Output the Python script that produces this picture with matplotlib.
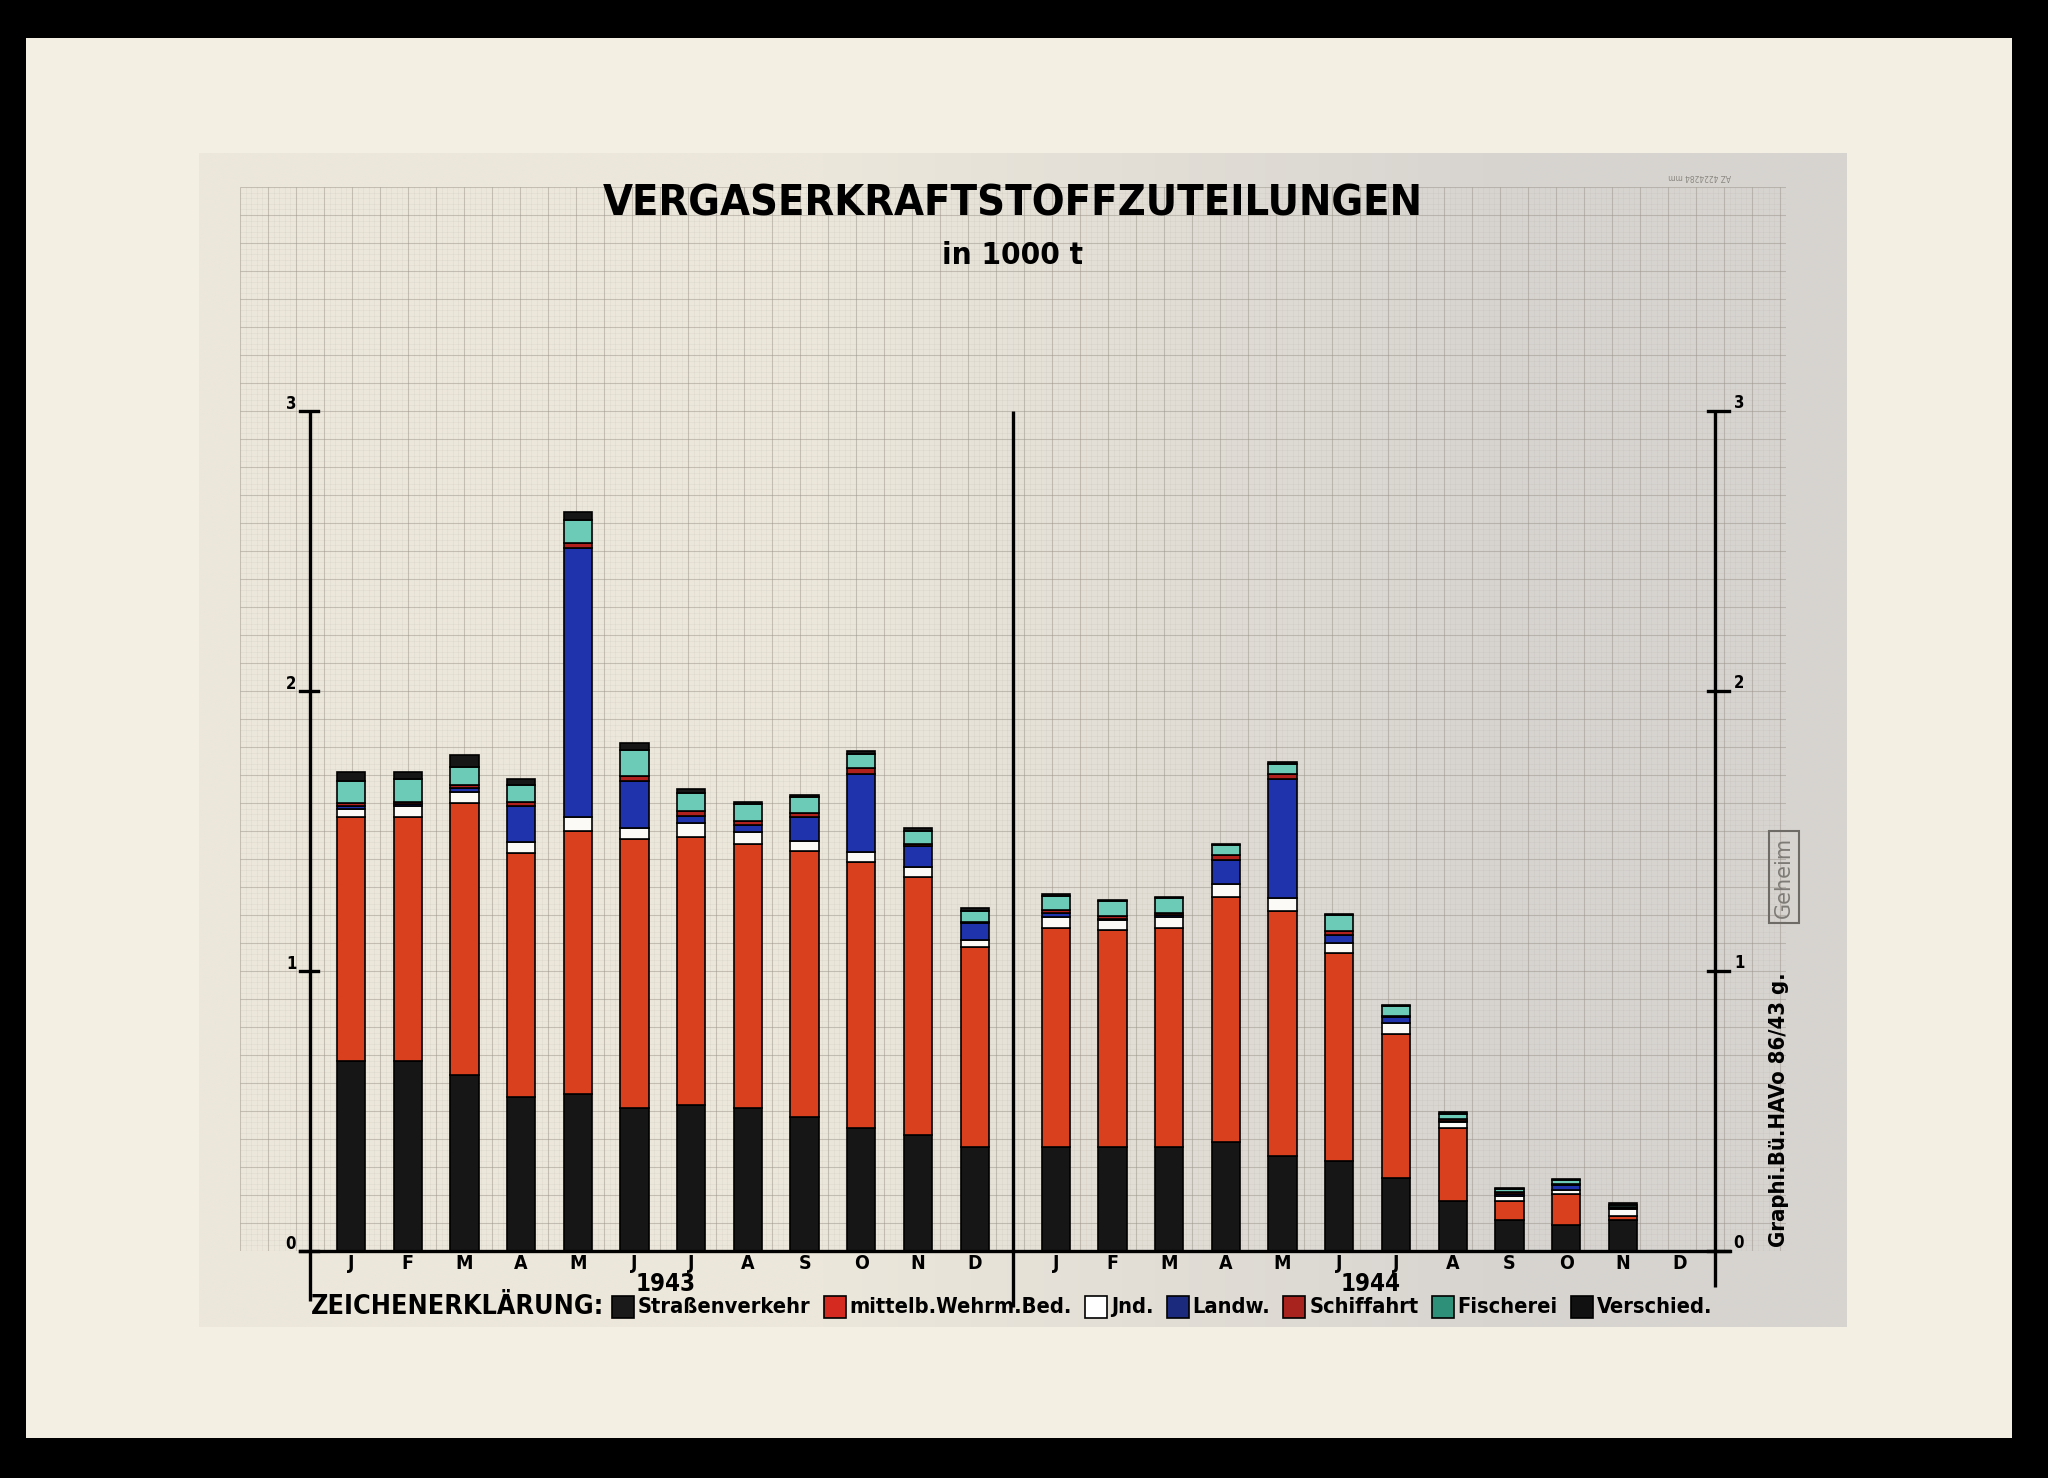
import numpy as np
import matplotlib
matplotlib.use('Agg')
import matplotlib.pyplot as plt
from matplotlib import font_manager as fm
from matplotlib.patches import Rectangle

# ---------------- data (in 1000 t) ----------------
months = ['J', 'F', 'M', 'A', 'M', 'J', 'J', 'A', 'S', 'O', 'N', 'D']
years = ['1943', '1944']
series_names = ['Straßenverkehr', 'mittelb.Wehrm.Bed.', 'Jnd.', 'Landw.',
                'Schiffahrt', 'Fischerei', 'Verschied.']

# 24 values each: Jan 1943 ... Dec 1944
strassenverkehr = [0.68, 0.68, 0.63, 0.55, 0.56, 0.51, 0.52, 0.51, 0.48, 0.44, 0.415, 0.37,
                   0.37, 0.37, 0.37, 0.39, 0.34, 0.32, 0.26, 0.18, 0.11, 0.094, 0.11, 0.0]
wehrmacht = [0.87, 0.87, 0.97, 0.87, 0.94, 0.96, 0.96, 0.945, 0.95, 0.95, 0.92, 0.715,
             0.785, 0.775, 0.785, 0.875, 0.875, 0.745, 0.515, 0.26, 0.07, 0.11, 0.015, 0.0]
industrie = [0.03, 0.04, 0.04, 0.04, 0.05, 0.04, 0.05, 0.04, 0.035, 0.035, 0.035, 0.025,
             0.037, 0.037, 0.037, 0.047, 0.047, 0.035, 0.04, 0.02, 0.015, 0.013, 0.025, 0.0]
landwirtschaft = [0.01, 0.005, 0.015, 0.13, 0.96, 0.17, 0.025, 0.025, 0.085, 0.28, 0.075, 0.06,
                  0.015, 0.005, 0.008, 0.086, 0.423, 0.03, 0.02, 0.005, 0.01, 0.018, 0.005, 0.0]
schiffahrt = [0.01, 0.01, 0.01, 0.015, 0.02, 0.015, 0.015, 0.015, 0.015, 0.02, 0.01, 0.005,
              0.012, 0.01, 0.007, 0.018, 0.018, 0.012, 0.005, 0.005, 0.005, 0.004, 0.003, 0.0]
fischerei = [0.08, 0.08, 0.065, 0.06, 0.08, 0.095, 0.065, 0.06, 0.055, 0.05, 0.045, 0.04,
             0.05, 0.053, 0.053, 0.033, 0.037, 0.057, 0.035, 0.02, 0.01, 0.015, 0.005, 0.0]
verschiedenes = [0.03, 0.025, 0.04, 0.02, 0.03, 0.025, 0.015, 0.01, 0.01, 0.01, 0.01, 0.01,
                 0.005, 0.005, 0.005, 0.006, 0.006, 0.004, 0.004, 0.005, 0.004, 0.004, 0.01, 0.0]

y_ticks = [0, 1, 2, 3]

bar_colors = ['#161616', '#D8401E', '#FBFAF6', '#1F33AC', '#B0201C', '#6CCBB6', '#161616']
legend_colors = ['#1A1A1A', '#D42A20', '#FFFFFF', '#1C2A7E', '#A8221E', '#2E9078', '#111111']


# pick the narrowest installed sans family for the hand-lettered look
def pick_font():
    entries = fm.fontManager.ttflist
    if any(f.name == 'Liberation Sans Narrow' for f in entries):
        return 'Liberation Sans Narrow', 'normal'
    if any(f.name == 'DejaVu Sans' and 'condensed' in str(f.stretch) for f in entries):
        return 'DejaVu Sans', 'condensed'
    return 'Liberation Sans', 'normal'


FAM, STRETCH = pick_font()
plt.rcParams['font.family'] = [FAM, 'DejaVu Sans']
plt.rcParams['font.stretch'] = STRETCH

W, H = 2048, 1478
fig = plt.figure(figsize=(W / 100, H / 100), dpi=100, facecolor='black')
renderer = fig.canvas.get_renderer()


def fx(px):
    return px / W


def fy(py):
    return 1 - py / H


def text_w(t, vertical=False):
    bb = t.get_window_extent(renderer)
    return bb.height if vertical else bb.width


def fit(t, target_px, max_fs, vertical=False):
    fs = t.get_fontsize() * target_px / max(text_w(t, vertical), 1)
    t.set_fontsize(min(fs, max_fs))
    return t


# ---------------- background: paper + grid sheet ----------------
bg = fig.add_axes([0, 0, 1, 1], zorder=-5)
bg.set_xlim(0, W)
bg.set_ylim(H, 0)
bg.axis('off')
bg.add_patch(Rectangle((26, 38), 1986, 1400, facecolor='#F3EFE3', edgecolor='none', zorder=1))
gx = np.linspace(0, 1, 400)
w = np.clip((gx - 0.38) / 0.42, 0, 1)
left_c = np.array([236, 231, 219]) / 255
right_c = np.array([215, 212, 208]) / 255
row = left_c[None, :] * (1 - w[:, None]) + right_c[None, :] * w[:, None]
img = np.repeat(row[None, :, :], 10, axis=0)
bg.imshow(img, extent=(199, 1847, 1327, 153), aspect='auto', interpolation='bilinear',
          zorder=2)
bg.set_xlim(0, W)
bg.set_ylim(H, 0)
bg.text(1700, 177, 'AZ 4224284 mm', rotation=180, fontsize=6, color='#8A8680',
        ha='center', va='center', zorder=3)

# ---------------- main axes ----------------
X0, XU = 351.0, 56.7   # pixel of first month label, pixels per month


def xd(px):
    return (px - X0) / XU


ax = fig.add_axes([fx(240), fy(1251), (1786 - 240) / W, (1251 - 187) / H])
ax.set_xlim(xd(240), xd(1786))
ax.set_ylim(0, 3.8)
ax.axis('off')
ax.patch.set_alpha(0)

# millimetre-style grid
minor_px = np.arange(240, 1787, 5.6)
major_px = np.arange(240, 1787, 28)
ax.vlines([xd(p) for p in minor_px], 0, 3.8, colors='#9C968C', lw=0.4, alpha=0.15, zorder=0)
ax.hlines(np.arange(0, 3.801, 0.02), xd(240), xd(1786), colors='#9C968C', lw=0.4, alpha=0.15,
          zorder=0)
ax.vlines([xd(p) for p in major_px], 0, 3.8, colors='#9A948A', lw=0.8, alpha=0.45, zorder=0.5)
ax.hlines(np.arange(0, 3.801, 0.1), xd(240), xd(1786), colors='#9A948A', lw=0.8, alpha=0.45,
          zorder=0.5)

# bar positions: 1943 months then 1944 months after the year divider
x_pos = np.concatenate([np.arange(12), 12.43 + np.arange(12)])
series = [strassenverkehr, wehrmacht, industrie, landwirtschaft, schiffahrt, fischerei, verschiedenes]
bottom = np.zeros(24)
for vals, col in zip(series, bar_colors):
    v = np.array(vals)
    m = v > 0
    ax.bar(x_pos[m], v[m], bottom=bottom[m], width=0.5, color=col,
           edgecolor='black', linewidth=1.2, zorder=3)
    bottom += v

# axes lines
lw_axis = 2.4
x_left, x_div, x_right = xd(310), xd(1013), xd(1715)
for xx, y_end in [(x_left, -0.18), (x_div, -0.2), (x_right, -0.13)]:
    ax.plot([xx, xx], [3, y_end], color='black', lw=lw_axis, clip_on=False, zorder=4,
            solid_capstyle='butt')
ax.plot([xd(300), xd(1730)], [0, 0], color='black', lw=lw_axis, clip_on=False, zorder=4)
for t in y_ticks:
    ax.plot([xd(300), xd(318)], [t, t], color='black', lw=lw_axis, clip_on=False, zorder=4)
    ax.plot([xd(1708), xd(1729)], [t, t], color='black', lw=lw_axis, clip_on=False, zorder=4)
    ax.text(xd(291), t + 0.025, str(t), ha='center', va='center', fontsize=12,
            fontweight='bold', zorder=5)
    ax.text(xd(1739), t + 0.03, str(t), ha='center', va='center', fontsize=12,
            fontweight='bold', zorder=5)

# month labels
for xi, m in zip(np.arange(12), months):
    ax.text(xi, -0.045, m, ha='center', va='center', fontsize=14, fontweight='bold',
            clip_on=False)
for xi, m in zip(12.43 + np.arange(12), months):
    ax.text(xi, -0.045, m, ha='center', va='center', fontsize=14, fontweight='bold',
            clip_on=False)
for x_year, yr in [(5.55, years[0]), (12.43 + 5.55, years[1])]:
    ty = ax.text(x_year, -0.118, yr, ha='center', va='center', fontsize=20, fontweight='bold',
                 clip_on=False)
    fit(ty, 60, 22)

# ---------------- titles ----------------
tt = fig.text(fx(1013), fy(203), 'VERGASERKRAFTSTOFFZUTEILUNGEN', ha='center', va='center',
              fontsize=44, fontweight='bold')
fit(tt, 821, 58)
st = fig.text(fx(1012), fy(256), 'in 1000 t', ha='center', va='center', fontsize=22,
              fontweight='bold')
fit(st, 140, 26)

# ---------------- legend (Zeichenerklärung) ----------------
ly = 1307
lt = fig.text(fx(311), fy(ly), 'ZEICHENERKLÄRUNG:', ha='left', va='center', fontsize=25,
              fontweight='bold')
fit(lt, 292, 30)

leg_start, leg_end = 612, 1716
sq, sq_pad, gap = 22, 4, 13
texts = [fig.text(0, fy(ly), name, ha='left', va='center', fontsize=20, fontweight='bold')
         for name in series_names]
avail = (leg_end - leg_start) - len(texts) * (sq + sq_pad) - (len(texts) - 1) * gap
total = sum(text_w(t) for t in texts)
fs_leg = 20 * avail / total
for t in texts:
    t.set_fontsize(fs_leg)
cx = leg_start
for t, col in zip(texts, legend_colors):
    fig.patches.append(Rectangle((fx(cx), fy(ly + 11)), sq / W, sq / H,
                                 transform=fig.transFigure,
                                 facecolor=col, edgecolor='black', lw=1.2))
    t.set_x(fx(cx + sq + sq_pad))
    cx += sq + sq_pad + text_w(t) + gap

# ---------------- side annotations ----------------
gt = fig.text(fx(1779), fy(1110), 'Graphi.Bü.HAVo 86/43 g.', rotation=90, ha='center',
              va='center', fontsize=19, fontweight='bold')
fit(gt, 274, 24, vertical=True)
fig.text(fx(1784), fy(877), 'Geheim', rotation=90, ha='center', va='center', fontsize=15,
         color='#7E7B76', family=['DejaVu Sans'], stretch='normal',
         bbox=dict(boxstyle='square,pad=0.25', facecolor='none', edgecolor='#6E6B66', lw=1.5))

fig.savefig('out.png', dpi=100, facecolor='black')
